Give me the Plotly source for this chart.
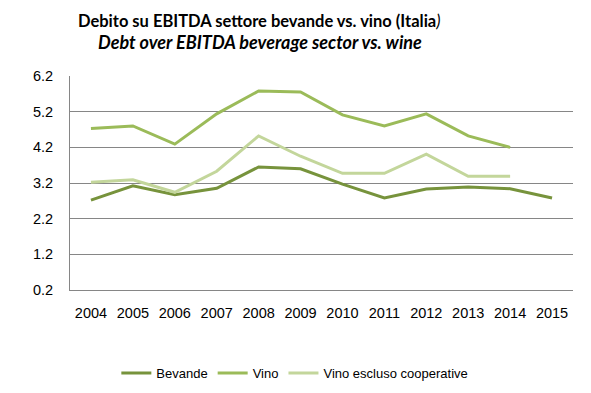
import plotly.graph_objects as go

years = ["2004", "2005", "2006", "2007", "2008", "2009", "2010", "2011", "2012", "2013", "2014", "2015"]
bevande = [2.72, 3.12, 2.87, 3.05, 3.65, 3.60, 3.17, 2.78, 3.03, 3.09, 3.04, 2.78]
vino = [4.73, 4.80, 4.29, 5.14, 5.78, 5.75, 5.11, 4.80, 5.14, 4.52, 4.20, None]
vino_escl = [3.22, 3.29, 2.94, 3.53, 4.52, 3.95, 3.47, 3.47, 4.01, 3.39, 3.39, None]
y_ticks = [0.2, 1.2, 2.2, 3.2, 4.2, 5.2, 6.2]

series = [
    ("Bevande", bevande, "#77933C"),
    ("Vino", vino, "#9BBB59"),
    ("Vino escluso cooperative", vino_escl, "#C3D69B"),
]

fig = go.Figure()
for name, vals, col in series:
    fig.add_trace(go.Scatter(x=years, y=vals, name=name, mode="lines",
                             line=dict(color=col, width=3), connectgaps=False))

title_font = "Lato, Liberation Sans, Arial, sans-serif"
fig.update_layout(
    width=591, height=393,
    margin=dict(l=70, r=18, t=76, b=103, autoexpand=False),
    paper_bgcolor="white", plot_bgcolor="white",
    font=dict(family="Liberation Sans, Arial, sans-serif", size=13, color="#000000"),
    showlegend=True,
    legend=dict(orientation="h", x=0.447, xanchor="center", yref="container",
                y=0.051, yanchor="middle",
                font=dict(size=13), itemwidth=30, tracegroupgap=0),
    annotations=[
        dict(text="<b>Debito su EBITDA settore bevande vs. vino (Italia</b><i>)</i>",
             x=0.375, xref="paper", xanchor="center", y=1, yref="paper", yanchor="middle",
             yshift=55, showarrow=False, font=dict(family=title_font, size=16.5)),
        dict(text="<b><i>Debt over EBITDA beverage sector vs. wine</i></b>",
             x=0.378, xref="paper", xanchor="center", y=1, yref="paper", yanchor="middle",
             yshift=34, showarrow=False, font=dict(family=title_font, size=18)),
    ],
)

fig.update_xaxes(type="category", range=[-0.5, 11.5], showline=True, linecolor="#868686",
                 linewidth=1, showgrid=False, ticks="", tickfont=dict(size=14.5),
                 ticklabelstandoff=10)
fig.update_yaxes(range=[0.2, 6.2], tickvals=y_ticks, ticktext=[f"{v:.1f}" for v in y_ticks],
                 showgrid=True, gridcolor="#868686", gridwidth=1, showline=True,
                 linecolor="#868686", linewidth=1, zeroline=False, ticks="",
                 tickfont=dict(size=14.5), ticklabelstandoff=13)

fig.write_html("out.html", config={"displayModeBar": False},
               post_script="document.body.style.margin='0';document.body.style.padding='0';")
